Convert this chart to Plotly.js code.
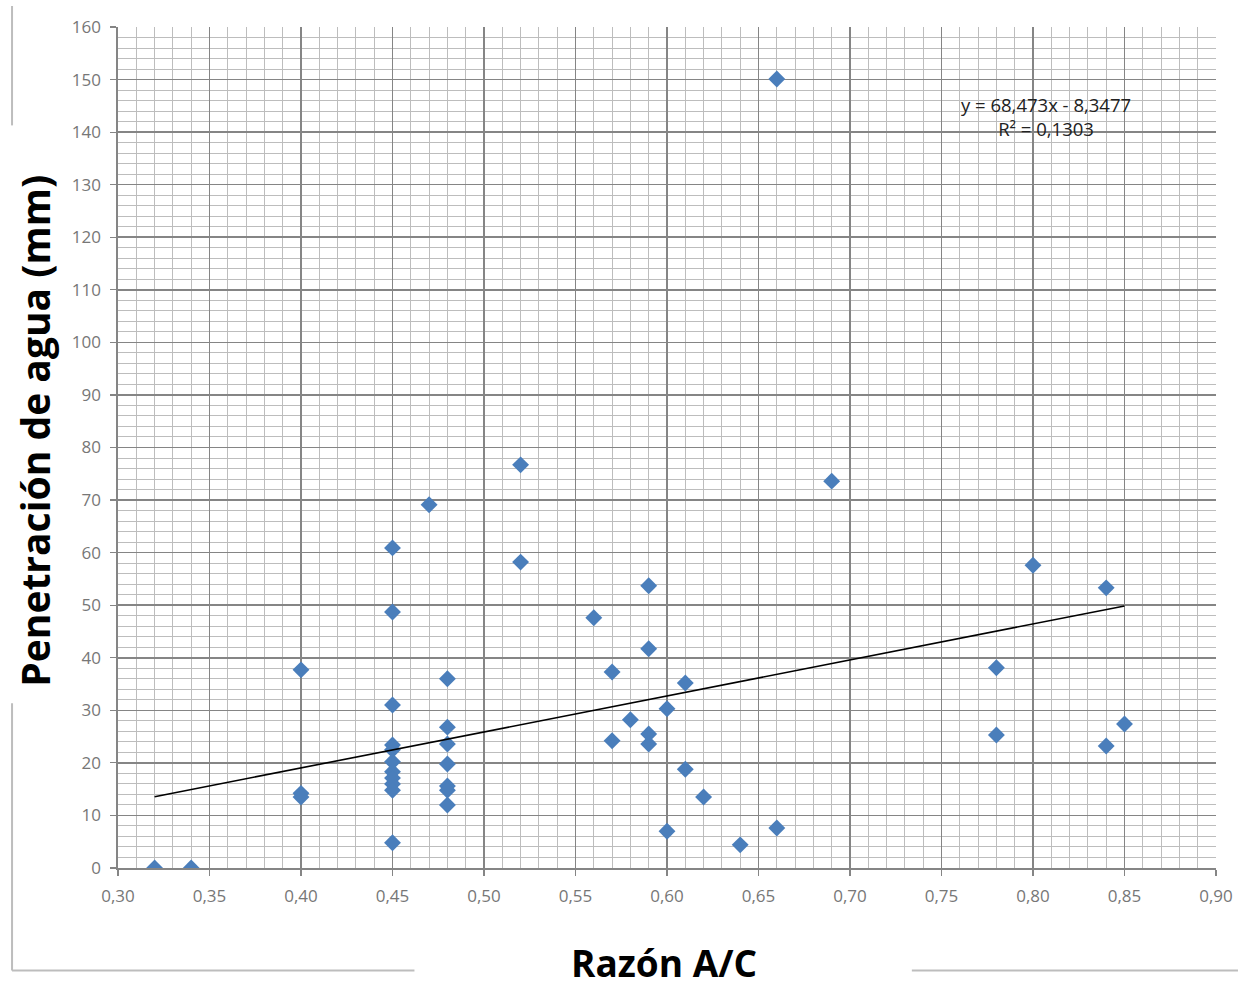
<!DOCTYPE html>
<html>
<head>
<meta charset="utf-8">
<script src="https://cdn.plot.ly/plotly-3.0.1.min.js"></script>
<style>html,body{margin:0;padding:0;background:#fff;}#chart{width:1238px;height:987px;}</style>
</head>
<body>
<div id="chart"></div>
<script>
// Data
const razonAC = [0.32, 0.34,
  0.40, 0.40, 0.40,
  0.45, 0.45, 0.45, 0.45, 0.45, 0.45, 0.45, 0.45, 0.45, 0.45, 0.45,
  0.47,
  0.48, 0.48, 0.48, 0.48, 0.48, 0.48, 0.48,
  0.52, 0.52,
  0.56,
  0.57, 0.57,
  0.58,
  0.59, 0.59, 0.59, 0.59,
  0.60, 0.60,
  0.61, 0.61,
  0.62,
  0.64,
  0.66, 0.66,
  0.69,
  0.78, 0.78,
  0.80,
  0.84, 0.84,
  0.85];
const penetracion = [0, 0,
  37.7, 14.2, 13.5,
  60.9, 48.7, 31.0, 23.4, 22.5, 20.2, 18.3, 17.1, 16.0, 14.8, 4.8,
  69.1,
  36.0, 26.8, 23.6, 19.8, 15.6, 14.8, 12.0,
  76.7, 58.2,
  47.6,
  37.3, 24.2,
  28.2,
  53.7, 41.7, 25.5, 23.6,
  30.3, 7.0,
  35.2, 18.8,
  13.5,
  4.4,
  150.1, 7.6,
  73.6,
  38.1, 25.3,
  57.6,
  53.3, 23.2,
  27.4];

// Linear trendline as stated on the chart
const slope = 68.473;
const intercept = -8.3477;
const rSquared = 0.1303;

const xTitle = 'Razón A/C';
const yTitle = 'Penetración de agua (mm)';

const xMin = Math.min(...razonAC), xMax = Math.max(...razonAC);
const trendX = [xMin, xMax];
const trendY = trendX.map(x => slope * x + intercept);

const fmt = (v, d) => v.toFixed(d).replace('.', ',');
const eqText = 'y = ' + fmt(slope, 3) + 'x - ' + fmt(-intercept, 4) + '<br>R² = ' + fmt(rSquared, 4);

const traces = [
  {
    x: razonAC, y: penetracion, type: 'scatter', mode: 'markers',
    marker: {symbol: 'diamond', size: 13, color: '#4a7ebb'},
    hoverinfo: 'x+y', showlegend: false
  },
  {
    x: trendX, y: trendY, type: 'scatter', mode: 'lines',
    line: {color: '#000000', width: 1.6},
    hoverinfo: 'skip', showlegend: false
  }
];

const fontFam = 'Open Sans, Lato, sans-serif';
const tickFont = {family: fontFam, size: 17, color: '#777777'};
const gridMajor = '#858585';
const gridMinor = '#bdbdbd';

const layout = {
  width: 1238, height: 987,
  margin: {l: 118, r: 22, t: 27, b: 119},
  paper_bgcolor: '#ffffff', plot_bgcolor: '#ffffff',
  separators: ', ',
  showlegend: false,
  xaxis: {
    range: [0.30, 0.90], dtick: 0.05, tick0: 0.30, tickformat: '.2f',
    showgrid: true, gridcolor: gridMajor, gridwidth: 1.6,
    minor: {dtick: 0.01, showgrid: true, gridcolor: gridMinor, gridwidth: 1},
    ticks: 'outside', ticklen: 6, tickcolor: '#858585', tickwidth: 1.2,
    ticklabelstandoff: 6,
    showline: true, linecolor: '#858585', linewidth: 1.6,
    zeroline: false, tickfont: tickFont
  },
  yaxis: {
    range: [0, 160], dtick: 10, tick0: 0,
    showgrid: true, gridcolor: gridMajor, gridwidth: 1.6,
    minor: {dtick: 2, showgrid: true, gridcolor: gridMinor, gridwidth: 1},
    ticks: 'outside', ticklen: 6, tickcolor: '#858585', tickwidth: 1.2,
    ticklabelstandoff: 6,
    showline: true, linecolor: '#858585', linewidth: 1.6,
    zeroline: false, tickfont: tickFont
  },
  annotations: [
    {x: 0.807, y: 143.0, xref: 'x', yref: 'y', text: eqText, showarrow: false,
     font: {family: fontFam, size: 18.5, color: '#222'}, align: 'center'},
    {x: 0.497, y: -0.112, xref: 'paper', yref: 'paper', text: '<b>' + xTitle + '</b>', showarrow: false,
     font: {family: fontFam, size: 37, color: '#000'}, xanchor: 'center', yanchor: 'middle'},
    {x: -0.0755, y: 0.52, xref: 'paper', yref: 'paper', text: '<b>' + yTitle + '</b>', showarrow: false,
     font: {family: fontFam, size: 39, color: '#000'}, textangle: -90, xanchor: 'center', yanchor: 'middle'}
  ],
  shapes: [
    // outer chart-area frame fragments
    {type: 'line', xref: 'paper', yref: 'paper', x0: -0.0965, x1: -0.0965, y0: 1.025, y1: 0.883, line: {color: '#bdbdbd', width: 2}},
    {type: 'line', xref: 'paper', yref: 'paper', x0: -0.0965, x1: -0.0965, y0: 0.196, y1: -0.122, line: {color: '#bdbdbd', width: 2}},
    {type: 'line', xref: 'paper', yref: 'paper', x0: -0.0965, x1: 0.27, y0: -0.122, y1: -0.122, line: {color: '#bdbdbd', width: 2}},
    {type: 'line', xref: 'paper', yref: 'paper', x0: 0.723, x1: 1.02, y0: -0.122, y1: -0.122, line: {color: '#bdbdbd', width: 2}}
  ]
};

Plotly.newPlot('chart', traces, layout, {displayModeBar: false, staticPlot: true});
</script>
</body>
</html>
